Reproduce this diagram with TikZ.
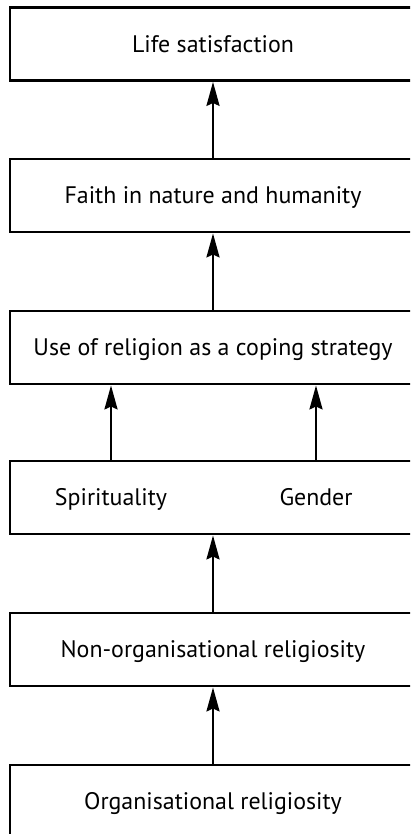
\documentclass[tikz,border=0pt]{standalone}
\usepackage{fontspec}
\setmainfont{PT Sans}
\usetikzlibrary{arrows.meta}
\begin{document}
\begin{tikzpicture}[x=1bp,y=-1bp,
  box/.style={draw=black, line width=2.8bp, minimum width=406bp, minimum height=73bp, inner sep=0pt, text height=20bp, text depth=4bp, font=\fontsize{24}{27}\selectfont},
  lbl/.style={inner sep=0pt, anchor=base, font=\fontsize{24}{27}\selectfont},
  arr/.style={line width=2.6bp, -{Stealth[length=24bp,width=13bp,inset=3bp]}}]
\useasboundingbox (0,0) rectangle (410,834);
\begin{scope}
\clip (0,0) rectangle (410,834);
\node[box] (b1) at (213,44) {Life satisfaction};
\node[box] (b2) at (213,195.5) {Faith in nature and humanity};
\node[box] (b3) at (213,347.5) {Use of religion as a coping strategy};
\node[box] (b4) at (213,497.5) {};
\node[box] (b5) at (213,649.5) {Non-organisational religiosity};
\node[box] (b6) at (213,801.5) {Organisational religiosity};
\end{scope}
\node[lbl] (sp) at (111,505.5) {Spirituality};
\node[lbl] (ge) at (316,505.5) {Gender};
\draw[arr] (b2.north) -- (b1.south);
\draw[arr] (b3.north) -- (b2.south);
\draw[arr] (b4.north -| sp) -- (b3.south -| sp);
\draw[arr] (b4.north -| ge) -- (b3.south -| ge);
\draw[arr] (b5.north) -- (b4.south);
\draw[arr] (b6.north) -- (b5.south);
\end{tikzpicture}
\end{document}
